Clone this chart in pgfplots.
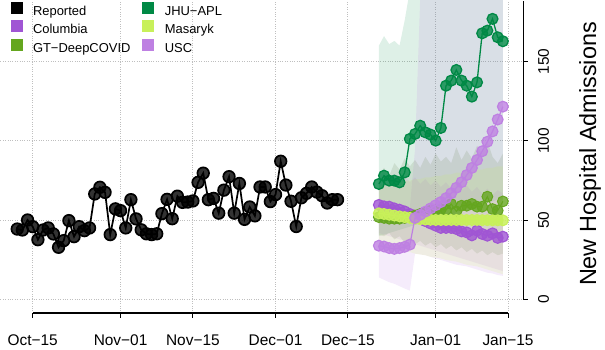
\documentclass[border=0pt]{standalone}
\usepackage{pgfplots}
\pgfplotsset{compat=1.18}
\usepackage{pgfplotstable}
\usepgfplotslibrary{fillbetween}
\usepackage{fontspec}
\setmainfont{Liberation Sans}

\definecolor{colcol}{RGB}{160,85,212}
\definecolor{gtcol}{RGB}{100,166,30}
\definecolor{jhucol}{RGB}{0,137,69}
\definecolor{mascol}{RGB}{200,240,90}
\definecolor{usccol}{RGB}{190,128,226}

% days since Oct-15
\pgfplotstableread{
d v
-3 44.5
-2 43.9
-1 50.2
0 46
1 37.8
2 43.9
3 45.2
4 41.4
5 33
6 37.2
7 49.8
8 39.7
9 46
10 43.5
11 45.2
12 66.6
13 70.8
14 67.6
15 41
16 57.2
17 56.1
18 45.2
19 63
20 50.9
21 44
22 41.5
23 41
24 41.5
25 54.2
26 63.2
27 51
28 65.2
29 61.3
30 61.5
31 62.2
32 73.9
33 79.7
34 63
35 63.8
36 54.5
37 69
38 77.5
39 54.5
40 73.2
41 50.6
42 58.4
43 52.8
44 71
45 71
46 61.8
47 66.2
48 87.2
49 72.2
50 62
51 46.1
52 64.2
53 67
54 71
55 67.8
56 65.5
57 60.9
58 63
59 63
}\reported

\pgfplotstableread{
d y lo hi
67 72.9 40 160
68 78.1 41 166
69 75.0 42 161
70 75.0 43 163
71 73.9 44 160
72 80.2 45 176
73 101.3 46 195
74 104.4 47 230
75 109.6 48 260
76 105.4 49 280
77 104.0 50 300
78 100.2 51 300
79 108.2 52 300
80 134.8 53 300
81 138.0 54 300
82 144.7 55 300
83 138.0 56 300
84 134.8 57 300
85 127.9 58 300
86 136.9 59 300
87 167.8 60 300
88 169.5 61 300
89 176.9 62 300
90 165.3 63 300
91 162.8 64 300
}\jhu

\pgfplotstableread{
d y lo hi
67 59.7 42 78
68 58.8 41 80
69 58.6 40 76
70 57.5 39 79
71 56.7 38 75
72 55.6 37 78
73 54.0 36 74
74 52.5 35 77
75 51.0 34 73
76 49.5 33 76
77 48.0 32 72
78 46.6 31 75
79 45.2 30 71
80 45.2 29 74
81 45.2 28 70
82 44.5 27 73
83 43.0 26 69
84 42.4 25 72
85 40.5 24 68
86 43.5 23 71
87 41.4 22 67
88 40.3 21 70
89 41.8 20 66
90 38.9 19 69
91 39.7 18 67
}\colu

\pgfplotstableread{
d y lo hi
67 52 41 79
68 51.5 40 83
69 51 42 78
70 51 38 86
71 51 40 82
72 51.5 36 89
73 52 38 84
74 53 35 88
75 54 37 83
76 55 34 90
77 56.1 36 85
78 56.5 33 92
79 57 35 87
80 56.5 32 90
81 60.3 34 86
82 55.6 31 96
83 59.2 33 88
84 59.2 30 94
85 60.3 32 89
86 58.6 29 97
87 58.6 31 92
88 64.9 28 100
89 57.1 30 90
90 56.1 28 86
91 61.9 29 92
}\gt

\pgfplotstableread{
d y lo hi
67 54.4 36 72
68 54 35 73
69 53.5 34 73
70 53 33 74
71 52.5 32 74
72 52 31 75
73 51.5 30 75
74 51 29 76
75 50.7 28.5 76
76 50.5 28 77
77 50.3 27 77
78 50.2 26.5 78
79 50.2 26 78
80 50.2 25 79
81 50.2 24.5 79
82 50.2 24 80
83 50.2 23 80
84 50.2 22 81
85 50.2 21.5 81
86 50.2 21 82
87 50.1 20 82
88 50.1 19 83
89 50.0 18 83
90 50.0 17 84
91 50.0 16 84
}\mas

\pgfplotstableread{
d y lo hi
67 34 14 56
68 33.5 12.5 56
69 32.5 11 55
70 32 10 55
71 32.5 8.5 56
72 33.3 7 57
73 34.7 5.7 58
74 51.5 29 95
75 53.5 28.5 190
76 55.5 28 300
77 57.5 27 300
78 59.5 26 300
79 61.5 25 300
80 64 24 300
81 67 23 300
82 70.5 22 300
83 74 21.5 300
84 78.5 21 300
85 83 20 300
86 88 19 300
87 93.5 18 300
88 99.5 17 300
89 106 16.5 300
90 113.5 15.5 300
91 121.6 15 300
}\usc

\begin{document}
\begin{tikzpicture}
\begin{axis}[
  width=523.3bp, height=312.7bp, scale only axis,
  xmin=-6.25, xmax=94.97, ymin=-8.43, ymax=188.4,
  clip mode=individual,
  axis x line*=bottom, axis y line*=right,
  axis line style={draw=none},
  tick align=outside, major tick length=4.5bp,
  tick style={black, line width=1bp},
  xtick={0,17,31,47,61,78,92},
  xticklabels={Oct−15,Nov−01,Nov−15,Dec−01,Dec−15,Jan−01,Jan−15},
  ytick={0,50,100,150},
  /pgf/number format/assume math mode=true,
  xticklabel style={font=\fontsize{15.5}{16}\selectfont},
  xticklabel shift={14bp},
  yticklabel style={font=\fontsize{15.5}{16}\selectfont, rotate=90, anchor=north, inner sep=0pt},
  yticklabel shift={10bp},
  grid=major, grid style={lightgray, dotted, line width=0.9bp},
  every axis y label/.style={at={(axis description cs:1.1275,0.509)}, anchor=center, rotate=90, font=\fontsize{23.5}{25}\selectfont},
  ylabel={New Hospital Admissions},
  legend columns=2,
  legend cell align=left,
  legend style={at={(axis description cs:0,1)}, anchor=north west, xshift=10bp, yshift=-1bp,
    draw=none, fill=none, inner sep=0pt, font=\fontsize{13}{15}\selectfont,
    nodes={inner ysep=2.1bp, text height=9.5bp, text depth=3bp},
    /tikz/every odd column/.append style={column sep=9bp},
    /tikz/every even column/.append style={column sep=10bp}},
]
% prediction bands
\addplot[draw=none, forget plot, name path=jl] table[x=d,y=lo]{\jhu};
\addplot[draw=none, forget plot, name path=jh] table[x=d,y=hi]{\jhu};
\addplot[jhucol, fill opacity=0.13, forget plot] fill between[of=jh and jl];
\addplot[draw=none, forget plot, name path=ul] table[x=d,y=lo]{\usc};
\addplot[draw=none, forget plot, name path=uh] table[x=d,y=hi]{\usc};
\addplot[usccol, fill opacity=0.15, forget plot] fill between[of=uh and ul];
\addplot[draw=none, forget plot, name path=gl] table[x=d,y=lo]{\gt};
\addplot[draw=none, forget plot, name path=gh] table[x=d,y=hi]{\gt};
\addplot[gray!70!gtcol, fill opacity=0.18, forget plot] fill between[of=gh and gl];
\addplot[draw=none, forget plot, name path=cl] table[x=d,y=lo]{\colu};
\addplot[draw=none, forget plot, name path=ch] table[x=d,y=hi]{\colu};
\addplot[colcol, fill opacity=0.1, forget plot] fill between[of=ch and cl];
\addplot[draw=none, forget plot, name path=ml] table[x=d,y=lo]{\mas};
\addplot[draw=none, forget plot, name path=mh] table[x=d,y=hi]{\mas};
\addplot[mascol, fill opacity=0.15, forget plot] fill between[of=mh and ml];

% reported
\addplot[black, line width=1.7bp, mark=*, mark size=5.8bp,
  mark options={draw=none, fill=black, fill opacity=0.8}, forget plot]
  table[x=d,y=v]{\reported};

% forecasts
\addplot[colcol, line width=1.2bp, mark=*, mark size=5.4bp,
  mark options={draw=none, fill=colcol, fill opacity=0.8}, forget plot] table[x=d,y=y]{\colu};
\addplot[gtcol, line width=1bp, mark=*, mark size=5.4bp,
  mark options={draw=none, fill=gtcol, fill opacity=0.8}, forget plot] table[x=d,y=y]{\gt};
\addplot[jhucol, line width=1.3bp, mark=*, mark size=5.4bp,
  mark options={draw=none, fill=jhucol, fill opacity=0.8}, forget plot] table[x=d,y=y]{\jhu};
\addplot[mascol, line width=1.2bp, mark=*, mark size=5.4bp,
  mark options={draw=none, fill=mascol, fill opacity=0.85}, forget plot] table[x=d,y=y]{\mas};
\addplot[usccol, line width=1.2bp, mark=*, mark size=5.4bp,
  mark options={draw=none, fill=usccol, fill opacity=0.8}, forget plot] table[x=d,y=y]{\usc};

% axis lines in R style
\draw[line width=1.2bp] (axis cs:0,-8.43) -- (axis cs:92,-8.43);
\draw[line width=1.2bp] (axis cs:94.97,0) -- (axis cs:94.97,188.4);

% legend
\addlegendimage{legend image code/.code={\fill[black] (0bp,-0.9bp) rectangle (11bp,10.1bp);}}
\addlegendentry{Reported}
\addlegendimage{legend image code/.code={\fill[jhucol] (0bp,-0.9bp) rectangle (11bp,10.1bp);}}
\addlegendentry{JHU−APL}
\addlegendimage{legend image code/.code={\fill[colcol] (0bp,-0.9bp) rectangle (11bp,10.1bp);}}
\addlegendentry{Columbia}
\addlegendimage{legend image code/.code={\fill[mascol] (0bp,-0.9bp) rectangle (11bp,10.1bp);}}
\addlegendentry{Masaryk}
\addlegendimage{legend image code/.code={\fill[gtcol] (0bp,-0.9bp) rectangle (11bp,10.1bp);}}
\addlegendentry{GT−DeepCOVID}
\addlegendimage{legend image code/.code={\fill[usccol] (0bp,-0.9bp) rectangle (11bp,10.1bp);}}
\addlegendentry{USC}
\end{axis}
\path (0,-36.3bp) rectangle (605bp,312.7bp);
\end{tikzpicture}
\end{document}
